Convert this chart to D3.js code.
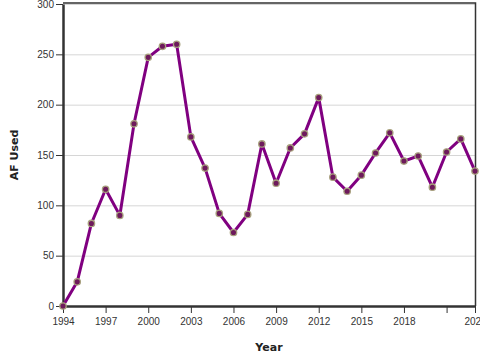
<!DOCTYPE html>
<html>
<head>
<meta charset="utf-8">
<script src="https://cdn.jsdelivr.net/npm/d3@7"></script>
<style>
  body { margin: 0; background: #fff; }
  svg { display: block; font-family: "DejaVu Sans", sans-serif; }
</style>
</head>
<body>
<svg id="chart" width="480" height="360"></svg>
<script>
let years = [1994, 1995, 1996, 1997, 1998, 1999, 2000, 2001, 2002, 2003,
  2004, 2005, 2006, 2007, 2008, 2009, 2010, 2011, 2012, 2013,
  2014, 2015, 2016, 2017, 2018, 2019, 2020, 2021, 2022, 2023]
let afUsed = [0, 24, 82, 116, 90, 181, 247, 258, 260, 168,
  137, 92, 73, 91, 161, 122, 157, 171, 207, 128,
  114, 130, 152, 172, 144, 149, 118, 153, 166, 134]
let xTicks = [1994, 1997, 2000, 2003, 2006, 2009, 2012, 2015, 2018, 2021, 2023]
let yTicks = [0, 50, 100, 150, 200, 250, 300]

let data = years.map((y, i) => ({year: y, value: afUsed[i]}))

let margin = {top: 4, right: 5, bottom: 54, left: 63}
let width = 480 - margin.left - margin.right
let height = 360 - margin.top - margin.bottom

let svg = d3.select('#chart')
let g = svg.append('g')
    .attr('transform', 'translate(' + margin.left + ',' + margin.top + ')')

let x = d3.scaleLinear()
    .domain([1994, 2023])
    .range([0, width])

let y = d3.scaleLinear()
    .domain([0, 300])
    .range([height, 0])

// grid
g.append('g')
    .selectAll('line')
    .data(yTicks)
  .enter().append('line')
    .attr('x1', 0)
    .attr('x2', width)
    .attr('y1', d => y(d) + 0.5)
    .attr('y2', d => y(d) + 0.5)
    .style('stroke', '#d6d6d6')
    .style('stroke-width', 1)

// frame top + right
g.append('path')
    .attr('d', 'M0,-1H' + (width + 0.5) + 'V' + height)
    .style('fill', 'none')
    .style('stroke', '#333')
    .style('stroke-width', 1.5)

let xAxis = g.append('g')
    .attr('transform', 'translate(0,' + height + ')')
    .call(d3.axisBottom(x)
      .tickValues(xTicks)
      .tickSize(7)
      .tickSizeOuter(0)
      .tickFormat(d => d === 2021 ? '' : d))

xAxis.select('.domain')
    .style('stroke', '#333')
    .style('stroke-width', 2.5)
xAxis.selectAll('line')
    .style('stroke', '#333')
    .style('stroke-width', 1)
xAxis.selectAll('text')
    .attr('y', 12)
    .style('font-size', '10px')
    .style('fill', '#333')

let yAxis = g.append('g')
    .call(d3.axisLeft(y)
      .tickValues(yTicks)
      .tickSize(7)
      .tickSizeOuter(0))

yAxis.select('.domain')
    .style('stroke', '#333')
    .style('stroke-width', 2.5)
yAxis.selectAll('line')
    .style('stroke', '#333')
    .style('stroke-width', 1)
yAxis.selectAll('text')
    .attr('x', -9)
    .style('font-size', '10px')
    .style('fill', '#333')

let line = d3.line()
    .x(d => x(d.year))
    .y(d => y(d.value))

g.append('path')
    .datum(data)
    .attr('d', line)
    .style('fill', 'none')
    .style('stroke', '#800080')
    .style('stroke-width', 3)
    .style('stroke-linejoin', 'round')

g.append('g')
    .selectAll('circle')
    .data(data)
  .enter().append('circle')
    .attr('cx', d => x(d.year))
    .attr('cy', d => y(d.value))
    .attr('r', 3.2)
    .style('fill', '#6e1a5c')
    .style('stroke', '#a8a27e')
    .style('stroke-width', 1.3)

svg.append('text')
    .attr('x', 269)
    .attr('y', 351)
    .attr('text-anchor', 'middle')
    .style('font-size', '11px')
    .style('font-weight', 'bold')
    .style('fill', '#222')
    .text('Year')

svg.append('text')
    .attr('transform', 'translate(18,155) rotate(-90)')
    .attr('text-anchor', 'middle')
    .style('font-size', '11px')
    .style('font-weight', 'bold')
    .style('fill', '#222')
    .text('AF Used')
</script>
</body>
</html>
